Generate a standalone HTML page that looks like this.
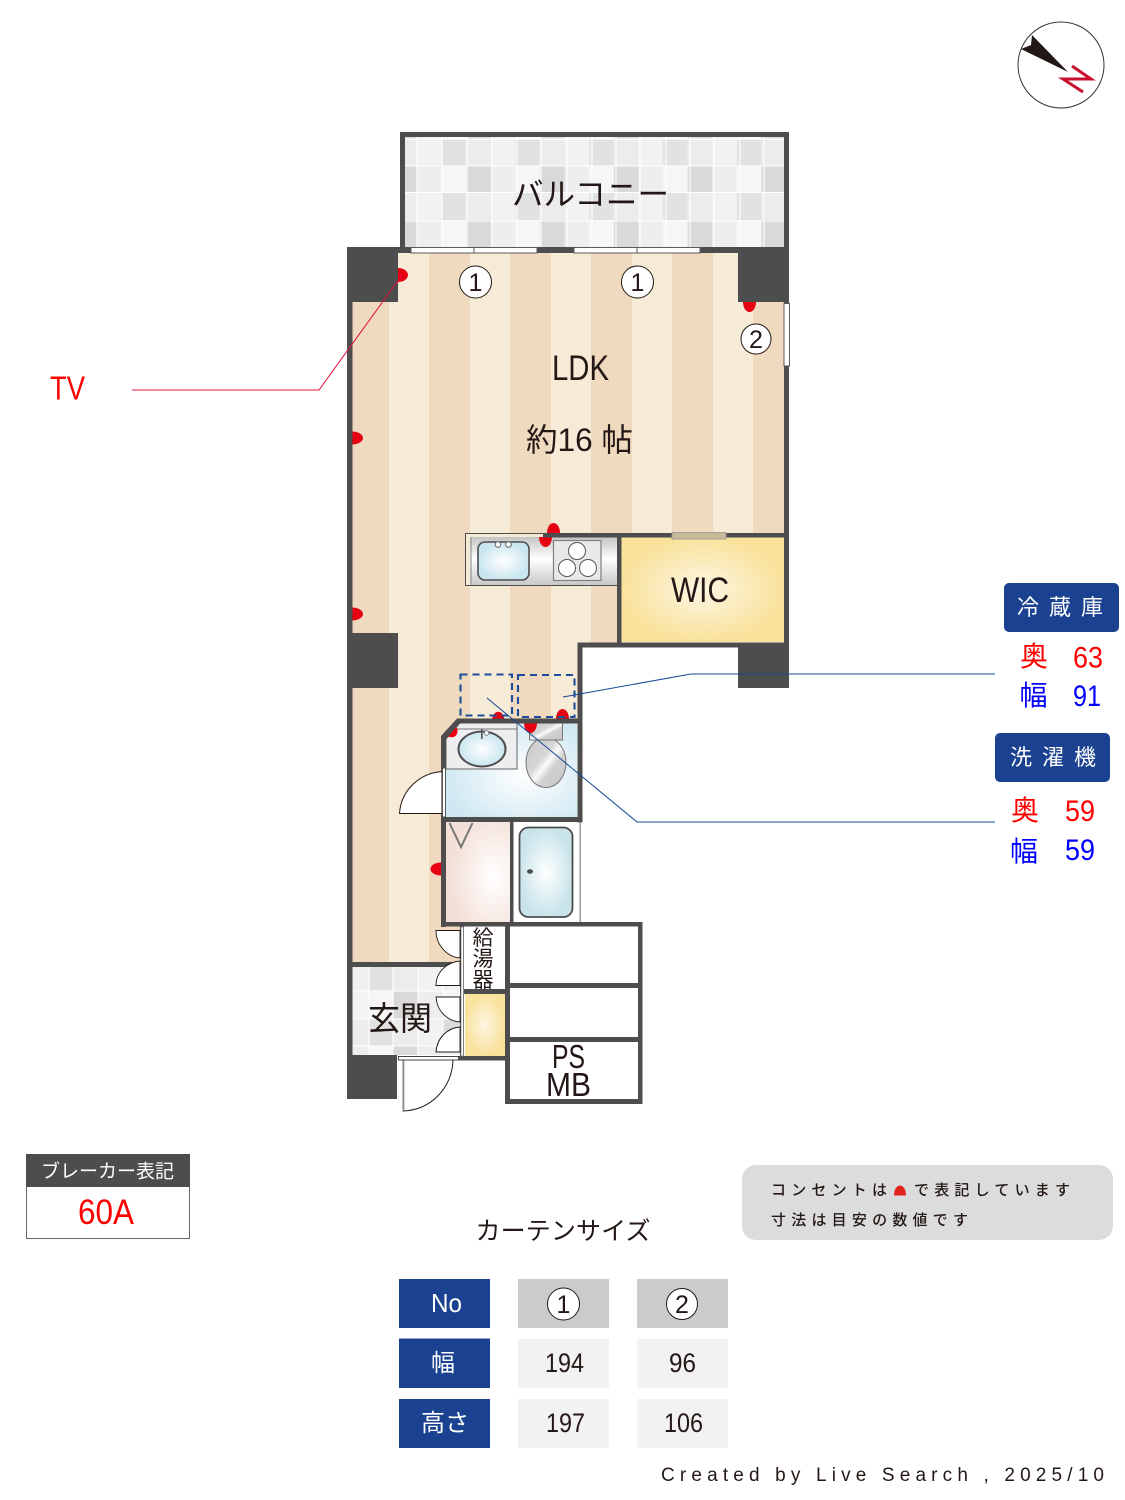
<!DOCTYPE html>
<html lang="ja"><head><meta charset="utf-8"><title>間取り図</title>
<style>html,body{margin:0;padding:0;background:#fff}svg{display:block}
text{font-family:"Liberation Sans","Noto Sans CJK JP",sans-serif;fill:#231815}
.j{font-family:"Noto Sans CJK JP","Liberation Sans",sans-serif}
.n{font-family:"Noto Sans CJK JP","Liberation Sans",sans-serif;font-weight:500}</style></head><body>
<svg xmlns="http://www.w3.org/2000/svg" width="1125" height="1500" viewBox="0 0 1125 1500">
<defs>
<radialGradient id="wb" cx=".6" cy=".55" r=".62"><stop offset="0" stop-color="#fff"/><stop offset="1" stop-color="#cfe8f2"/></radialGradient>
<radialGradient id="sk"><stop offset="0" stop-color="#fff"/><stop offset="1" stop-color="#c9e5ef"/></radialGradient>
<radialGradient id="bt"><stop offset="0" stop-color="#fff"/><stop offset="1" stop-color="#c8e4ea"/></radialGradient>
<radialGradient id="pk" cx=".75" cy=".55" r=".7"><stop offset="0" stop-color="#fff"/><stop offset="1" stop-color="#f3dfd6"/></radialGradient>
<radialGradient id="ye"><stop offset="0" stop-color="#fdf6e3"/><stop offset="1" stop-color="#f9e29b"/></radialGradient>
<linearGradient id="me" x1="0" y1="0" x2="0" y2="1"><stop offset="0" stop-color="#c4c4c4"/><stop offset=".45" stop-color="#fff"/><stop offset="1" stop-color="#c9c9c9"/></linearGradient>
<linearGradient id="to" x1="0" y1="0" x2="1" y2="1"><stop offset="0" stop-color="#ccc"/><stop offset=".4" stop-color="#d5d5d5"/><stop offset=".52" stop-color="#fafafa"/><stop offset=".64" stop-color="#d0d0d0"/><stop offset="1" stop-color="#c8c8c8"/></linearGradient>
<pattern id="bal" x="417" y="139" width="73.8" height="108" patternUnits="userSpaceOnUse">
<rect width="24.6" height="27" fill="#f2f2f2"/><rect x="24.6" width="24.6" height="27" fill="#e2e2e2"/><rect x="49.2" width="24.6" height="27" fill="#ececec"/>
<rect y="27" width="24.6" height="27" fill="#eeeef0"/><rect x="24.6" y="27" width="24.6" height="27" fill="#f6f6f6"/><rect x="49.2" y="27" width="24.6" height="27" fill="#d9d9d9"/>
<rect y="54" width="24.6" height="27" fill="#f2f2f2"/><rect x="24.6" y="54" width="24.6" height="27" fill="#e2e2e2"/><rect x="49.2" y="54" width="24.6" height="27" fill="#ececec"/>
<rect y="81" width="24.6" height="27" fill="#eeeef0"/><rect x="24.6" y="81" width="24.6" height="27" fill="#f6f6f6"/><rect x="49.2" y="81" width="24.6" height="27" fill="#d9d9d9"/>
</pattern>
</defs>

<!-- balcony -->
<rect x="403" y="135" width="383" height="114" fill="url(#bal)"/>
<g stroke="#fff" stroke-width="1.100" fill="none">
<path d="M405 139H784M405 166H784M405 192.500H784M405 221H784M417 137V247M442 137V247M467 137V247M492 137V247M517 137V247M541 137V247M567 137V247M592 137V247M616 137V247M640 137V247M666 137V247M690 137V247M714 137V247M740 137V247M764 137V247"/>
</g>
<path d="M400 250V132H789V250H784V137H405V250Z" fill="#4d4d4d"/>

<!-- LDK floor -->
<path d="M352 250H786V535H617V645H578V722H441V927H461V964H352Z" fill="#f6ebd6"/>
<g fill="#f0dabf">
<rect x="352" y="250" width="37" height="714"/>
<rect x="429" y="250" width="41" height="714"/>
<path d="M510 250h41V722h-41Z"/>
<rect x="591" y="250" width="26" height="395" /><rect x="617" y="250" width="15" height="285"/>
<rect x="672" y="250" width="41" height="285"/>
<rect x="753" y="250" width="33" height="285"/>
</g>
<rect x="582" y="648" width="156" height="60" fill="#fff"/>

<!-- outlets -->
<g fill="#e60012">
<path d="M398 268A10 7 0 0 1 398 282Z"/>
<path d="M743 302A6.500 10 0 0 0 756 302Z"/>
<path d="M352 431.500A11 6.500 0 0 1 352 444.500Z"/>
<path d="M352 607.500A11 6.500 0 0 1 352 620.500Z"/>
<path d="M441 862.500A10.500 6.500 0 0 0 441 875.500Z"/>
<path d="M547 533A6.500 10 0 0 1 560 533Z"/>
<path d="M492 719A6.500 10 0 0 1 504.500 719Z"/>
<path d="M556 719A6.500 10 0 0 1 569 719Z"/>
</g>

<!-- kitchen -->
<rect x="465.500" y="533.500" width="152" height="52" fill="#f5ebd5" stroke="#4d4d4d" stroke-width="1"/>
<rect x="470" y="537" width="147" height="48" fill="url(#me)"/>
<rect x="470.500" y="537.500" width="1" height="47" fill="#888"/>
<rect x="478" y="542" width="51" height="38" rx="7" fill="url(#sk)" stroke="#4d4d4d" stroke-width="1.600"/>
<circle cx="498" cy="544.500" r="2.800" fill="#fff" stroke="#666"/><circle cx="508.500" cy="544.500" r="2.800" fill="#fff" stroke="#666"/>
<rect x="553.500" y="540.500" width="47.500" height="40" fill="#e8e8e8" stroke="#808080" stroke-width="1.200"/>
<g fill="#fff" stroke="#555" stroke-width="1"><circle cx="577" cy="551" r="8.500"/><circle cx="567" cy="568" r="8.500"/><circle cx="588" cy="568" r="8.500"/></g>
<path d="M539 537A6.500 10 0 0 0 552 537Z" fill="#e60012"/>

<!-- WIC -->
<rect x="621" y="537" width="163" height="105" fill="url(#ye)"/>

<!-- washroom -->
<path d="M446 739L460 723H577V817H446Z" fill="url(#wb)"/>
<path d="M446 739L460 723H517V769H446Z" fill="#eeeef0" stroke="#666" stroke-width="1"/>
<path d="M450 729H517" stroke="#777" stroke-width="1" fill="none"/>
<ellipse cx="482" cy="749" rx="23.500" ry="17.500" fill="url(#sk)" stroke="#4d4d4d" stroke-width="2"/>
<rect x="481" y="729" width="1.600" height="10" fill="#555"/><circle cx="486.500" cy="733" r="2.300" fill="#fff" stroke="#666" stroke-width=".8"/>
<ellipse cx="546" cy="762.500" rx="20" ry="25" fill="url(#to)" stroke="#777" stroke-width="1"/>
<rect x="529.500" y="723" width="33" height="17" fill="url(#to)" stroke="#777" stroke-width="1"/>
<path d="M524 723A6.500 10 0 0 0 537 723Z" fill="#e60012"/>
<path d="M448 736.500A7 9 -45 0 0 456.500 727Z" fill="#e60012"/>

<!-- dressing & bath -->
<rect x="446" y="822" width="64" height="100" fill="url(#pk)"/>
<rect x="513" y="822" width="66" height="100" fill="#fff"/>
<rect x="519.500" y="827.500" width="53" height="89.500" rx="9" fill="url(#bt)" stroke="#4d4d4d" stroke-width="1.800"/>
<ellipse cx="530" cy="871.500" rx="3" ry="2.300" fill="#4d4d4d"/>
<path d="M449.500 823L461 847L472.500 823" fill="none" stroke="#777" stroke-width="2"/>
<rect x="448" y="819" width="59" height="2" fill="#fff"/>

<!-- entry floor -->
<rect x="352" y="967" width="109" height="88" fill="#f0f0f0"/>
<g>
<rect x="369" y="967" width="24" height="24" fill="#e2e2e2"/><rect x="393" y="967" width="25" height="24" fill="#ececec"/><rect x="418" y="967" width="25" height="24" fill="#f2f2f2"/>
<rect x="352" y="991" width="17" height="28" fill="#f3f3f3"/><rect x="369" y="991" width="24" height="28" fill="#f6f6f6"/><rect x="393" y="991" width="25" height="28" fill="#d9d9d9"/><rect x="418" y="991" width="25" height="28" fill="#eeeef0"/><rect x="443" y="991" width="18" height="28" fill="#f6f6f6"/>
<rect x="352" y="1019" width="17" height="27" fill="#ececec"/><rect x="369" y="1019" width="24" height="27" fill="#e2e2e2"/><rect x="393" y="1019" width="25" height="27" fill="#ececec"/><rect x="418" y="1019" width="25" height="27" fill="#f2f2f2"/><rect x="443" y="1019" width="18" height="27" fill="#dcdcdc"/>
<rect x="352" y="1046" width="17" height="9" fill="#eeeef0"/><rect x="369" y="1046" width="24" height="9" fill="#f6f6f6"/><rect x="393" y="1046" width="25" height="9" fill="#d9d9d9"/><rect x="418" y="1046" width="25" height="9" fill="#eeeef0"/>
</g>
<path d="M369 967V1055M393 967V1055M418 967V1055M443 967V1055M352 991H461M352 1019H461M352 1046H461" stroke="#fff" stroke-width="1.100" fill="none"/>

<!-- service boxes -->
<rect x="464" y="926" width="41" height="63" fill="#fff"/>
<rect x="465" y="994" width="40" height="62" fill="url(#ye)"/>
<rect x="510" y="926" width="128" height="57" fill="#fff"/>
<rect x="510" y="988" width="128" height="49" fill="#fff"/>
<rect x="510" y="1042" width="128" height="57" fill="#fff"/>

<!-- walls -->
<g fill="#4d4d4d">
<rect x="347" y="302" width="5.500" height="760"/>
<rect x="347" y="247" width="51" height="55"/>
<rect x="738" y="247" width="51" height="55"/>
<rect x="347" y="633" width="51" height="55"/>
<rect x="347" y="1055" width="50" height="44"/>
<rect x="398" y="247" width="340" height="6"/>
<rect x="784" y="302" width="5" height="345"/>
<rect x="543" y="533" width="245" height="4.500"/>
<rect x="617" y="533" width="4.500" height="114"/>
<rect x="578" y="642.500" width="211" height="5"/>
<rect x="738" y="647" width="51" height="41"/>
<rect x="577.500" y="642.500" width="5" height="180"/>
<path d="M441 736L457 718.500H582V723.500H459.500L446 739V927H441Z"/>
<rect x="441" y="817" width="141" height="5"/>
<rect x="510" y="820" width="3.500" height="105"/>
<rect x="441" y="922" width="201" height="4.500"/>
<rect x="352" y="962" width="109" height="5"/>
<rect x="505" y="922" width="5" height="182"/>
<rect x="638" y="922" width="4.500" height="182"/>
<rect x="505" y="1099" width="137.500" height="5"/>
<rect x="505" y="983" width="137" height="5"/>
<rect x="505" y="1037" width="137" height="5"/>
<rect x="460" y="989" width="46" height="5"/>
<rect x="458" y="1056" width="47" height="4.500"/>
<rect x="460" y="926" width="4" height="134"/>
</g>
<rect x="579.500" y="822" width="1.500" height="100" fill="#999"/>

<!-- windows & doors -->
<g fill="#fff" stroke="#5a5a5a" stroke-width="1">
<rect x="411" y="247.500" width="126" height="5.500"/><path d="M474 247.500V253"/>
<rect x="574" y="247.500" width="126" height="5.500"/><path d="M637 247.500V253"/>
<rect x="784" y="303.500" width="5.500" height="62.500"/>
</g>
<rect x="672" y="532.500" width="54" height="6.500" fill="#c8b997" stroke="#999" stroke-width=".8"/>
<g fill="#fff" stroke="#231815" stroke-width="1">
<path d="M399.500 813.500C401 790 420 773 442 771.500V813.500Z"/>
<rect x="442.500" y="768" width="3" height="49" stroke="#555"/>
<path d="M436 930.500H460V958C447 957 436 945 436 930.500Z" stroke-width=".9"/>
<path d="M436 985.500H460V961C447 962 436 972 436 985.500Z" stroke-width=".9"/>
<path d="M436 997H460V1022C447 1021 437 1011 436 997Z" stroke-width=".9"/>
<path d="M436 1052H460V1027C447 1028 437 1038 436 1052Z" stroke-width=".9"/>
<path d="M403 1060H453C452 1088 431 1110 403 1111Z"/>
</g>
<rect x="461" y="927" width="2.500" height="129" fill="#fff" stroke="#666" stroke-width=".6"/>
<rect x="402.500" y="1060" width="1.800" height="51" fill="#8a8580"/>
<rect x="398.500" y="1056.500" width="60" height="3.500" fill="#fff" stroke="#444" stroke-width="1"/>

<!-- dashed boxes and leader lines -->
<g fill="none" stroke="#1d4d9b" stroke-width="2.100" stroke-dasharray="7 5">
<rect x="460.500" y="674.500" width="51.500" height="41"/>
<rect x="518" y="675" width="56.500" height="42"/>
</g>
<g fill="none" stroke-width="1">
<path d="M132 390H319L402 275" stroke="#e0103a"/>
<path d="M563 697L691 674H995" stroke="#174a96"/>
<path d="M487 698L637 822H995" stroke="#174a96"/>
</g>

<!-- compass -->
<circle cx="1061" cy="65" r="43" fill="#fff" stroke="#333" stroke-width="1"/>
<path d="M1068 72L1032 35L1031 45L1021 49Z" fill="#231815"/>
<path d="M1072 66L1091 79H1063L1083 92" fill="none" stroke="#c8102e" stroke-width="3"/>

<!-- room labels -->
<text class="j" x="512" y="205" font-size="31.500" textLength="157" lengthAdjust="spacingAndGlyphs">バルコニー</text>
<text x="552" y="380" font-size="35" textLength="57" lengthAdjust="spacingAndGlyphs">LDK</text>
<text x="526" y="451" font-size="32" textLength="107" lengthAdjust="spacingAndGlyphs">約16 帖</text>
<text x="671" y="602" font-size="35" textLength="58" lengthAdjust="spacingAndGlyphs">WIC</text>
<text x="50" y="399.500" font-size="33" style="fill:#f00" textLength="35" lengthAdjust="spacingAndGlyphs">TV</text>
<text class="j" x="483" y="945" font-size="21" text-anchor="middle">給</text><text class="j" x="483" y="966" font-size="21" text-anchor="middle">湯</text><text class="j" x="483" y="987" font-size="21" text-anchor="middle">器</text>
<text class="j" x="368" y="1030" font-size="33" textLength="64" lengthAdjust="spacingAndGlyphs">玄関</text>
<text x="552" y="1068" font-size="33" textLength="33" lengthAdjust="spacingAndGlyphs">PS</text>
<text x="546" y="1096" font-size="33" textLength="45" lengthAdjust="spacingAndGlyphs">MB</text>

<!-- curtain markers -->
<g fill="#fff" stroke="#231815" stroke-width="1">
<circle cx="475.500" cy="282" r="16"/><circle cx="637.500" cy="282" r="16"/><circle cx="756" cy="339" r="15"/>
</g>
<g font-size="25" text-anchor="middle">
<text x="475.500" y="291">1</text><text x="637.500" y="291">1</text><text x="756" y="348">2</text>
</g>

<!-- appliance panels -->
<rect x="1004" y="583" width="115" height="49" rx="5" fill="#1a4290"/>
<text class="j" x="1017" y="615" font-size="22" style="fill:#fff" textLength="86">冷蔵庫</text>
<text class="j" x="1020" y="666" font-size="28" style="fill:#f00">奥</text>
<text x="1073" y="667.500" font-size="30" style="fill:#f00" textLength="30" lengthAdjust="spacingAndGlyphs">63</text>
<text class="j" x="1019.500" y="705" font-size="28" style="fill:#00f">幅</text>
<text x="1073" y="706" font-size="30" style="fill:#00f" textLength="28" lengthAdjust="spacingAndGlyphs">91</text>
<rect x="995" y="733" width="115" height="49" rx="5" fill="#1a4290"/>
<text class="j" x="1010" y="765" font-size="22" style="fill:#fff" textLength="86">洗濯機</text>
<text class="j" x="1011" y="820" font-size="28" style="fill:#f00">奥</text>
<text x="1065" y="821" font-size="30" style="fill:#f00" textLength="30" lengthAdjust="spacingAndGlyphs">59</text>
<text class="j" x="1010" y="861" font-size="28" style="fill:#00f">幅</text>
<text x="1065" y="860" font-size="30" style="fill:#00f" textLength="30" lengthAdjust="spacingAndGlyphs">59</text>

<!-- breaker -->
<rect x="26.500" y="1154.500" width="163" height="84" fill="#fff" stroke="#666" stroke-width="1"/>
<rect x="26" y="1154" width="164" height="33" fill="#4d4d4d"/>
<text class="j" x="41" y="1177.500" font-size="19" style="fill:#fff" textLength="133" lengthAdjust="spacingAndGlyphs">ブレーカー表記</text>
<text x="78" y="1224" font-size="35" style="fill:#f00" textLength="56" lengthAdjust="spacingAndGlyphs">60A</text>

<!-- note -->
<rect x="742" y="1165" width="371" height="75" rx="14" fill="#dcdcdc"/>
<text class="n" x="771" y="1195" font-size="15" textLength="116">コンセントは</text>
<path d="M894 1195.500C894 1189 897 1185.500 900 1185.500S906 1189 906 1195.500Z" fill="#e0241c"/>
<text class="n" x="914" y="1195" font-size="15" textLength="156">で表記しています</text>
<text class="n" x="771" y="1225" font-size="15" textLength="197">寸法は目安の数値です</text>

<!-- curtain table -->
<text class="j" x="475.500" y="1239.500" font-size="25" textLength="175">カーテンサイズ</text>
<g fill="#1a4290">
<rect x="399" y="1279" width="91" height="49"/><rect x="399" y="1338.500" width="91" height="49.500"/><rect x="399" y="1399" width="91" height="49"/>
</g>
<g fill="#cbcbcb"><rect x="518" y="1279" width="91" height="49"/><rect x="637" y="1279" width="91" height="49"/></g>
<g fill="#f2f2f2">
<rect x="518" y="1339" width="91" height="49"/><rect x="637" y="1339" width="91" height="49"/>
<rect x="518" y="1399" width="91" height="49"/><rect x="637" y="1399" width="91" height="49"/>
</g>
<g fill="#fff" stroke="#231815" stroke-width="1"><circle cx="563.500" cy="1304" r="16"/><circle cx="682" cy="1304" r="15.500"/></g>
<g font-size="25" text-anchor="middle"><text x="563.500" y="1313">1</text><text x="682" y="1313">2</text></g>
<text x="431" y="1312" font-size="26" style="fill:#fff" textLength="31" lengthAdjust="spacingAndGlyphs">No</text>
<text class="j" x="431" y="1371" font-size="24" style="fill:#fff">幅</text>
<text class="j" x="421" y="1431" font-size="24" style="fill:#fff" textLength="48">高さ</text>
<g font-size="27">
<text x="545" y="1372" textLength="39" lengthAdjust="spacingAndGlyphs">194</text>
<text x="669" y="1372" textLength="27" lengthAdjust="spacingAndGlyphs">96</text>
<text x="546" y="1432" textLength="39" lengthAdjust="spacingAndGlyphs">197</text>
<text x="664" y="1432" textLength="39" lengthAdjust="spacingAndGlyphs">106</text>
</g>

<text x="661" y="1481" font-size="19" textLength="443">Created by Live Search , 2025/10</text>
</svg>
</body></html>
